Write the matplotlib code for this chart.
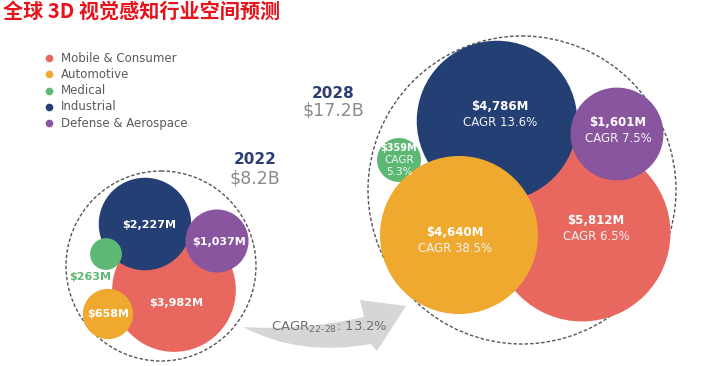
import matplotlib.pyplot as plt
from matplotlib.patches import Circle, PathPatch
from matplotlib.path import Path
import numpy as np

# data
segments = ['Mobile & Consumer', 'Automotive', 'Medical', 'Industrial', 'Defense & Aerospace']
colors = ['#e8685f', '#f0a92f', '#5cb872', '#243f74', '#8a559f']
values_2022 = [3982, 658, 263, 2227, 1037]
values_2028 = [5812, 4640, 359, 4786, 1601]
cagr_2028 = [6.5, 38.5, 5.3, 13.6, 7.5]
years = ['2022', '2028']
totals = ['$8.2B', '$17.2B']
cagr_total = 13.2
title = '全球 3D 视觉感知行业空间预测'

# layout (pixel space of the 702x366 canvas, y downwards)
layout = {
    '2022': dict(scale=0.98, outer=(161, 266, 95), header=(255, 160),
                 centers=[(174, 290), (108, 314), (106, 254), (145, 224), (217, 241)],
                 label_off=[(2, 13), (0, 0), (-16, 23), (4, 1), (2, 1)]),
    '2028': dict(scale=1.16, outer=(522, 190, 154), header=(333, 93),
                 centers=[(582, 233), (459, 235), (399, 160), (497, 121), (617, 134)],
                 label_off=[(14, -4), (-4, 6), (0, 0), (3, -6), (1, -4)]),
}
draw_order = [0, 3, 4, 2, 1]

plt.rcParams['font.family'] = ['DejaVu Sans']
fig = plt.figure(figsize=(7.02, 3.66), dpi=100)
ax = fig.add_axes([0, 0, 1, 1])
ax.set_xlim(0, 702)
ax.set_ylim(366, 0)
ax.set_aspect('equal')
ax.axis('off')

ax.text(3, 1, title, color='#e8121b', fontsize=14.5, fontweight='bold', va='top', ha='left',
        family=['Noto Sans CJK SC', 'DejaVu Sans'])

# legend
for i, (seg, c) in enumerate(zip(segments, colors)):
    y = 58 + i * 16.3
    ax.plot(49, y, 'o', color=c, markersize=5.5, markeredgewidth=0)
    ax.text(61, y, seg, color='#5a5a5a', fontsize=8.5, va='center', ha='left')

for year, values, total in zip(years, [values_2022, values_2028], totals):
    lay = layout[year]
    ox, oy, orad = lay['outer']
    ax.add_patch(Circle((ox, oy), orad, fill=False, edgecolor='#555555', linewidth=1.0,
                        linestyle=(0, (2.5, 1.5)), zorder=1))
    hx, hy = lay['header']
    ax.text(hx, hy, year, color='#2b3d72', fontsize=11, fontweight='bold', ha='center', va='center')
    ax.text(hx, hy + 18, total.replace('$', r'\$'), color='#8a8a8a', fontsize=12.5,
            ha='center', va='center')
    radii = lay['scale'] * np.sqrt(values)
    for z, i in enumerate(draw_order):
        cx, cy = lay['centers'][i]
        ax.add_patch(Circle((cx, cy), radii[i], facecolor=colors[i], edgecolor='none', zorder=2 + z))
    for i in range(len(values)):
        cx, cy = lay['centers'][i]
        dx, dy = lay['label_off'][i]
        lx, ly = cx + dx, cy + dy
        money = r'\$' + f'{values[i]:,}M'
        if year == '2022':
            col = colors[i] if segments[i] == 'Medical' else 'white'
            ax.text(lx, ly, money, color=col, fontsize=8, fontweight='bold',
                    ha='center', va='center', zorder=10)
        elif segments[i] == 'Medical':
            # small bubble: three short lines
            ax.text(lx, ly - 12, money, color='white', fontsize=7, fontweight='bold',
                    ha='center', va='center', zorder=10)
            ax.text(lx, ly, 'CAGR', color='#eef6ef', fontsize=7.5, ha='center', va='center', zorder=10)
            ax.text(lx, ly + 12, f'{cagr_2028[i]}%', color='#eef6ef', fontsize=7.5,
                    ha='center', va='center', zorder=10)
        else:
            ax.text(lx, ly - 8, money, color='white', fontsize=8.5, fontweight='bold',
                    ha='center', va='center', zorder=10)
            ax.text(lx, ly + 8, f'CAGR {cagr_2028[i]}%', color='#f2f2f2', fontsize=8.5,
                    ha='center', va='center', zorder=10)

# growth arrow between the two years
verts = [(243, 327), (300, 331), (364, 317), (360, 300), (406, 306), (377, 351),
         (371, 344), (300, 357), (243, 327), (243, 327)]
codes = [Path.MOVETO, Path.CURVE3, Path.CURVE3, Path.LINETO, Path.LINETO, Path.LINETO,
         Path.LINETO, Path.CURVE3, Path.CURVE3, Path.CLOSEPOLY]
ax.add_patch(PathPatch(Path(verts, codes), facecolor='#d6d6d6', edgecolor='none', zorder=1))
ax.text(329, 327, r'CAGR$_{\mathregular{22‐28}}$: ' + f'{cagr_total}%', color='#6e6e6e',
        fontsize=9.5, ha='center', va='center', zorder=3)

plt.savefig('out.png', dpi=100)
